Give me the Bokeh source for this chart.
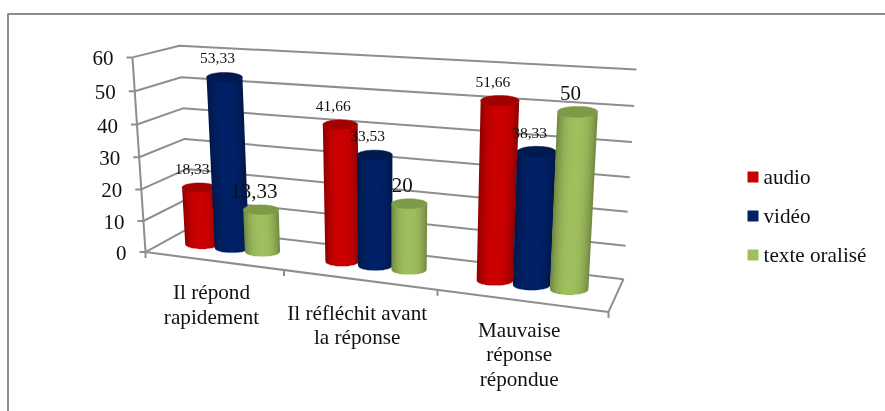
import numpy as np
from bokeh.embed import file_html
from bokeh.models import Range1d
from bokeh.plotting import figure
from bokeh.core.properties import value
from bokeh.resources import INLINE

# ---- data ----
categories = [["Il répond", "rapidement"],
              ["Il réfléchit avant", "la réponse"],
              ["Mauvaise", "réponse", "répondue"]]
series_names = ["audio", "vidéo", "texte oralisé"]
audio = [18.33, 41.66, 51.66]
video = [53.33, 33.53, 38.33]
texte = [13.33, 20, 50]
audio_labels = ["18,33", "41,66", "51,66"]
video_labels = ["53,33", "33,53", "38,33"]
texte_labels = ["13,33", "20", "50"]
y_ticks = [0, 10, 20, 30, 40, 50, 60]

# ---- styles ----
FONT = value("Liberation Serif")
GRID = "#8e8e8e"
BODY = [(204, 0, 0), (0, 34, 104), (160, 192, 94)]
RIM = ["#e87070", "#5a70a8", "#cfe0a8"]
TOPS = ["#a30000", "#001a4f", "#7d9a47"]
LABEL_PX = ["15.5px", "15.5px", "21px"]
TEXT_PX = "21.2px"

# ---- camera: 3D chart box (category, value, depth) -> page pixels, fitted on the box corners ----
world = np.array([[0, 0, 0], [0, 60, 0], [0, 0, 1], [0, 60, 1], [3, 0, 1], [3, 60, 1], [3, 0, 0]], float)
page = np.array([[145, 251], [132, 57], [189, 228], [179, 45], [623, 278], [636, 69], [608, 312]], float)
A, b = [], []
for (X, Y, Z), (u, v) in zip(world, page):
    A.append([X, Y, Z, 1, 0, 0, 0, 0, -u * X, -u * Y, -u * Z]); b.append(u)
    A.append([0, 0, 0, 0, X, Y, Z, 1, -v * X, -v * Y, -v * Z]); b.append(v)
h = np.linalg.lstsq(np.array(A), np.array(b), rcond=None)[0]
H = np.append(h, 1).reshape(3, 4)


def proj(X, Y, Z):
    q = H @ np.array([X, Y, Z, 1.0])
    return q[0] / q[2], q[1] / q[2]


p = figure(width=885, height=411, x_range=Range1d(0, 885), y_range=Range1d(411, 0),
           toolbar_location=None, output_backend="svg", min_border=0, outline_line_color=None)
p.styles = {"position": "fixed", "left": "0px", "top": "0px"}
p.axis.visible = False
p.grid.visible = False
p.background_fill_color = "white"

# chart frame (only top and left edges fall inside the picture)
p.line([7.5, 7.5, 885], [411, 13.5, 13.5], line_color="#8c8c8c", line_width=2)


def seg(a, c, w=2):
    p.line([a[0], c[0]], [a[1], c[1]], line_color=GRID, line_width=w)


# walls
for t in y_ticks:
    a, m, e = proj(0, t, 0), proj(0, t, 1), proj(3, t, 1)
    p.line([a[0], m[0], e[0]], [a[1], m[1], e[1]], line_color=GRID, line_width=2)
    seg((a[0] - 6, a[1]), a)
    p.text([a[0] - 19], [a[1] + 1], text=[str(t)], text_font=FONT, text_font_size="21px",
           text_align="right", text_baseline="middle", text_color="#111111")
seg(proj(0, 0, 0), proj(0, 60, 0))
c = [proj(0, 0, 0), proj(3, 0, 0), proj(3, 0, 1)]
p.line([q[0] for q in c], [q[1] for q in c], line_color=GRID, line_width=2)
for i in range(4):
    a = proj(i, 0, 0)
    seg(a, (a[0], a[1] + 6))

# cylinders
CENTRES = [0.485, 1.5, 2.5]
OFFSET = 0.225
RX = [0.128, 0.116, 0.114]
ZMID = 0.5
RATIO = 0.135
NSTRIP = 16
all_vals = [audio, video, texte]
all_labels = [audio_labels, video_labels, texte_labels]


def shade(rgb, u):
    f = 1.0 - 0.28 * abs(u) ** 2.6
    return "#%02x%02x%02x" % tuple(int(max(0, min(255, k * f))) for k in rgb)


text_rows = []
th = np.linspace(0, np.pi, 30)
for i in range(3):
    for j, vals in enumerate(all_vals):
        cx = CENTRES[i] + (j - 1) * OFFSET
        val = vals[i]
        xb, yb = proj(cx, 0, ZMID)
        xt, yt = proj(cx, val, ZMID)
        wb = proj(cx + RX[i], 0, ZMID)[0] - proj(cx - RX[i], 0, ZMID)[0]
        wt = proj(cx + RX[i], val, ZMID)[0] - proj(cx - RX[i], val, ZMID)[0]
        ab, at = wb / 2, wt / 2
        # lighter rim along the foot of the cylinder
        p.patch(xb + ab * np.cos(th), yb + RATIO * wb * np.sin(th) + 1.0, fill_color=RIM[j], line_color=None)
        # nested silhouettes, outermost (darkest) first: no seams between shades
        for u in np.linspace(1, 1 / NSTRIP, NSTRIP):
            col = shade(BODY[j], u)
            uu = np.cos(th) * u
            sn = np.sqrt(np.maximum(0, 1 - uu ** 2))
            xs = np.concatenate([xt + uu * at, xb + uu[::-1] * ab])
            ys = np.concatenate([yt + RATIO * wt * sn, yb + RATIO * wb * sn[::-1]])
            p.patch(xs, ys, fill_color=col, line_color=None)
        full = np.linspace(0, 2 * np.pi, 60)
        p.patch(xt + at * np.cos(full), yt + RATIO * wt * np.sin(full), fill_color=TOPS[j], line_color=TOPS[j], line_width=0.5)
        text_rows.append((xt - 7, yt - 19, all_labels[j][i], LABEL_PX[j]))

for x, y, s, size in text_rows:
    p.text([x], [y], text=[s], text_font=FONT, text_font_size=size, text_align="center",
           text_baseline="middle", text_color="#111111")

# category labels
LABEL_DROP = [31, 33, 29]
for i, lines in enumerate(categories):
    x0, y0 = proj(i + 0.5, 0, 0)
    for n, line in enumerate(lines):
        p.text([x0 - 1.5], [y0 + LABEL_DROP[i] + n * 24.7], text=[line], text_font=FONT, text_font_size=TEXT_PX,
               text_align="center", text_baseline="middle", text_color="#111111")

# legend
for j, name in enumerate(series_names):
    yc = 176 + j * 39
    p.rect([752.5], [yc + 0.5], width=11, height=11, fill_color="#%02x%02x%02x" % BODY[j], line_color=None)
    p.text([763], [yc], text=[name], text_font=FONT, text_font_size=TEXT_PX, text_align="left",
           text_baseline="middle", text_color="#111111")

open("out.html", "w").write(file_html(p, INLINE))
